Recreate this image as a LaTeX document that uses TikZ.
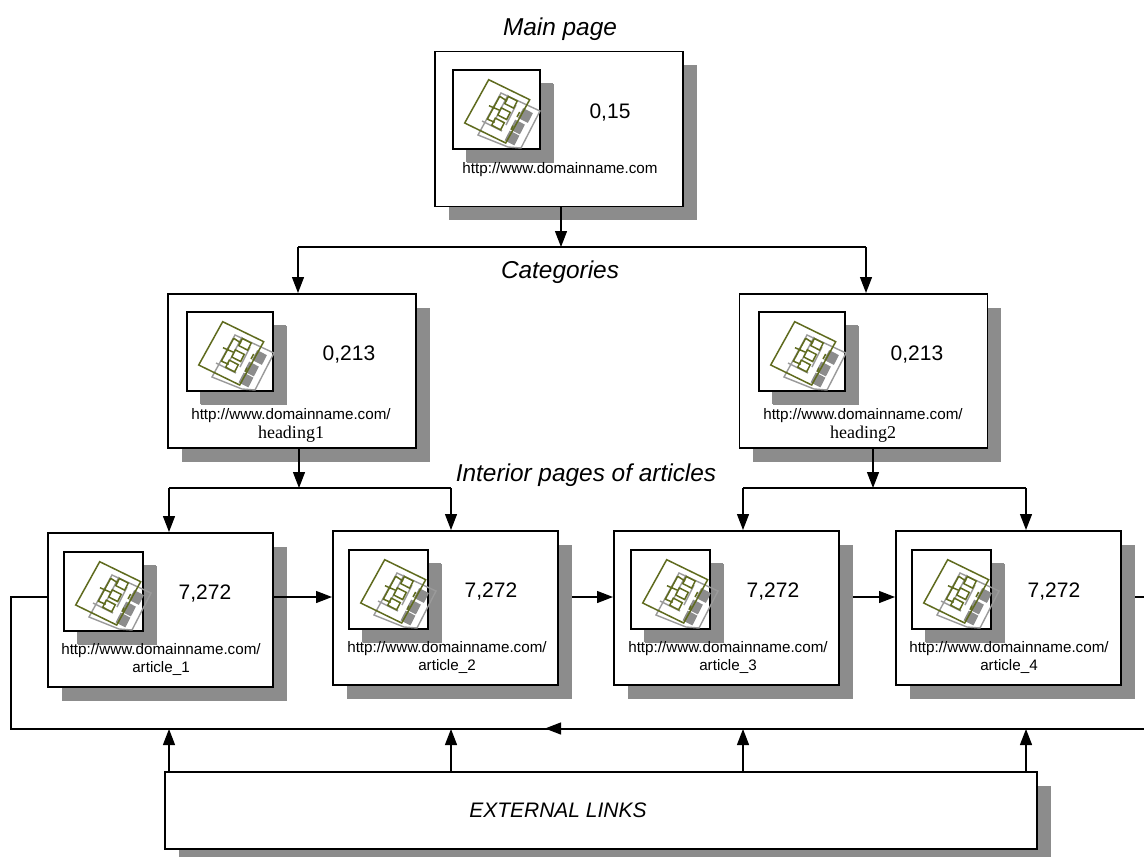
\documentclass[tikz,border=0pt]{standalone}
\usepackage{fontspec}
\setmainfont{Liberation Sans}
\newfontfamily\timesf{Liberation Serif}
\usetikzlibrary{arrows.meta,shadows,backgrounds,calc}
\definecolor{shadowgray}{HTML}{8C8C8C}
\definecolor{icongreen}{HTML}{5F6B1E}
\definecolor{icongray}{HTML}{9A9A9A}
\tikzset{
  conn/.style={line width=1.3pt,draw=black},
  arr/.style={conn,-{Triangle[length=16pt,width=12pt]}},
  pagebox/.style={draw=black,line width=1.6pt,fill=white,anchor=north west,inner sep=0pt,
    general shadow={shadow xshift=14pt,shadow yshift=-14pt,fill=shadowgray,draw=none}},
  iconbox/.style={pagebox,line width=1.6pt,minimum width=79pt,minimum height=79pt,
    general shadow={shadow xshift=13pt,shadow yshift=-13pt,fill=shadowgray,draw=none}},
  val/.style={font=\fontsize{21}{24}\selectfont,inner sep=0pt},
  url/.style={font=\fontsize{15.2}{18}\selectfont,inner sep=0pt},
  captext/.style={font=\itshape\fontsize{24.4}{28}\selectfont,inner sep=0pt},
  igreen/.style={draw=icongreen,line width=1.5pt},
  igray/.style={draw=icongray,line width=1.4pt},
  isq/.style={fill=shadowgray,draw=none},
}
% glyph drawn relative to the top-left corner of the icon frame
\newcommand{\glyph}[2]{%
  \begin{scope}[shift={(#1,#2)}]
    \draw[igray] (49,24) -- (88,42) -- (69,79) -- (56,78) -- (26,66) -- cycle;
    \foreach \cx/\cy in {73.5/46.5,65.5/58,60/69}
      \fill[isq,rotate around={-27:(\cx,\cy)}] (\cx-5.5,\cy-5.5) rectangle (\cx+5.5,\cy+5.5);
    \draw[igray] (56,26) -- (44,49) (64,36) -- (54,56) (30,52) -- (50,62);
    \draw[igreen] (36.7,10.7) -- (77.7,30.7) -- (53.7,74) -- (12.7,54) -- cycle;
    \draw[igreen] (47.7,27.3) -- (35,50.7) (47.7,27.3) -- (55,32) (37,36.7) -- (47.7,41.3) (35,50) -- (42.7,53.3)
      (65,48) -- (67.7,43) (59.3,60.7) -- (61,56.7);
    \foreach \cx/\cy in {59/33.3,52/44.7,46/55}
      \draw[igreen,rotate around={-27:(\cx,\cy)}] (\cx-5,\cy-4) rectangle (\cx+5,\cy+4);
  \end{scope}}
\begin{document}
\begin{tikzpicture}[x=1pt,y=-1pt]
\useasboundingbox (0,0) rectangle (1144,857);

% page boxes
\node[pagebox,minimum width=248pt,minimum height=155pt] (main) at (434,50.5) {};
\node[pagebox,minimum width=248pt,minimum height=154pt] (cat1) at (167,293) {};
\node[pagebox,minimum width=248pt,minimum height=154pt] (cat2) at (738.5,293) {};
\node[pagebox,minimum width=225pt,minimum height=154pt] (art1) at (47,532) {};
\node[pagebox,minimum width=225pt,minimum height=154pt] (art2) at (332,530) {};
\node[pagebox,minimum width=225pt,minimum height=154pt] (art3) at (613,530) {};
\node[pagebox,minimum width=225pt,minimum height=154pt] (art4) at (895,530) {};
\node[pagebox,minimum width=872pt,minimum height=77pt] (ext) at (164,771) {};

% icons
\node[iconbox,minimum width=87pt] (imain) at (452,69) {};\glyph{452}{69}
\node[iconbox,minimum width=86pt] (icat1) at (186,311) {};\glyph{186}{311}
\node[iconbox,minimum width=86pt] (icat2) at (758,311) {};\glyph{758}{311}
\node[iconbox] (iart1) at (63,551) {};\glyph{63}{551}
\node[iconbox] (iart2) at (348,549) {};\glyph{348}{549}
\node[iconbox] (iart3) at (630,549) {};\glyph{630}{549}
\node[iconbox] (iart4) at (911,549) {};\glyph{911}{549}

% free-end and junction coordinates
\coordinate (mainj) at (561,247);
\coordinate (c1x) at (298,247);
\coordinate (c2x) at (866,247);
\coordinate (c1j) at (299,488);
\coordinate (c2j) at (873,488);
\coordinate (a1x) at (169,488);
\coordinate (a2x) at (451,488);
\coordinate (a3x) at (743,488);
\coordinate (a4x) at (1026,488);
\coordinate (busL) at (11,729);
\coordinate (busR) at (1144,729);
\coordinate (busM) at (622,728.5);
\coordinate (busT) at (545,728.5);
\coordinate (loopL) at (11,597);
\coordinate (outR) at (1144,597);

% connectors
\draw[arr] (mainj |- main.south) -- (mainj);
\draw[conn] (c1x) -- (c2x);
\draw[arr] (c1x) -- (c1x |- cat1.north);
\draw[arr] (c2x) -- (c2x |- cat2.north);
\draw[arr] (c1j |- cat1.south) -- (c1j);
\draw[arr] (c2j |- cat2.south) -- (c2j);
\draw[conn] (a1x) -- (a2x);
\draw[conn] (a3x) -- (a4x);
\draw[arr] (a1x) -- (a1x |- art1.north);
\draw[arr] (a2x) -- (a2x |- art2.north);
\draw[arr] (a3x) -- (a3x |- art3.north);
\draw[arr] (a4x) -- (a4x |- art4.north);
\draw[arr] (art1.east |- loopL) -- (art2.west |- loopL);
\begin{scope}[on background layer]
  \draw[arr] (art2.east |- outR) -- (art3.west |- outR);
  \draw[arr] (art3.east |- outR) -- (art4.west |- outR);
  \draw[conn] (art4.east |- outR) -- (outR);
\end{scope}
\draw[conn] (art1.west |- loopL) -- (loopL) -- (busL) -- (busR);
\draw[arr] (busM) -- (busT);
\draw[arr] (ext.north -| a1x) -- (a1x |- busL);
\draw[arr] (ext.north -| a2x) -- (a2x |- busL);
\draw[arr] (ext.north -| a3x) -- (a3x |- busL);
\draw[arr] (ext.north -| a4x) -- (a4x |- busL);

% captions and values
\node[captext] (tmain) at (560,29) {Main page};
\node[captext] (tcat) at (560,272) {Categories};
\node[captext] (tint) at (586,475) {Interior pages of articles};
\node[captext,font=\itshape\fontsize{21}{24}\selectfont] (text) at (558,810) {EXTERNAL LINKS};

\node[val] (vmain) at (610,112.5) {0,15};
\node[val] (vc1) at (349,354.5) {0,213};
\node[val] (vc2) at (917,354.5) {0,213};
\node[val] (va1) at (205,593.5) {7,272};
\node[val] (va2) at (491,591.5) {7,272};
\node[val] (va3) at (773,591.5) {7,272};
\node[val] (va4) at (1054,591.5) {7,272};

\node[url] (umain) at (560,169.5) {http://www.domainname.com};
\node[url] (uc1) at (291,415.5) {http://www.domainname.com/};
\node[url,font=\timesf\fontsize{18}{20}\selectfont] (hc1) at (291,434) {heading1};
\node[url] (uc2) at (863,415.5) {http://www.domainname.com/};
\node[url,font=\timesf\fontsize{18}{20}\selectfont] (hc2) at (863,434) {heading2};
\node[url] (ua1) at (161,650.5) {http://www.domainname.com/};
\node[url] (la1) at (161,668) {article\_1};
\node[url] (ua2) at (447,648.5) {http://www.domainname.com/};
\node[url] (la2) at (447,666) {article\_2};
\node[url] (ua3) at (728,648.5) {http://www.domainname.com/};
\node[url] (la3) at (728,666) {article\_3};
\node[url] (ua4) at (1009,648.5) {http://www.domainname.com/};
\node[url] (la4) at (1009,666) {article\_4};
\end{tikzpicture}
\end{document}
